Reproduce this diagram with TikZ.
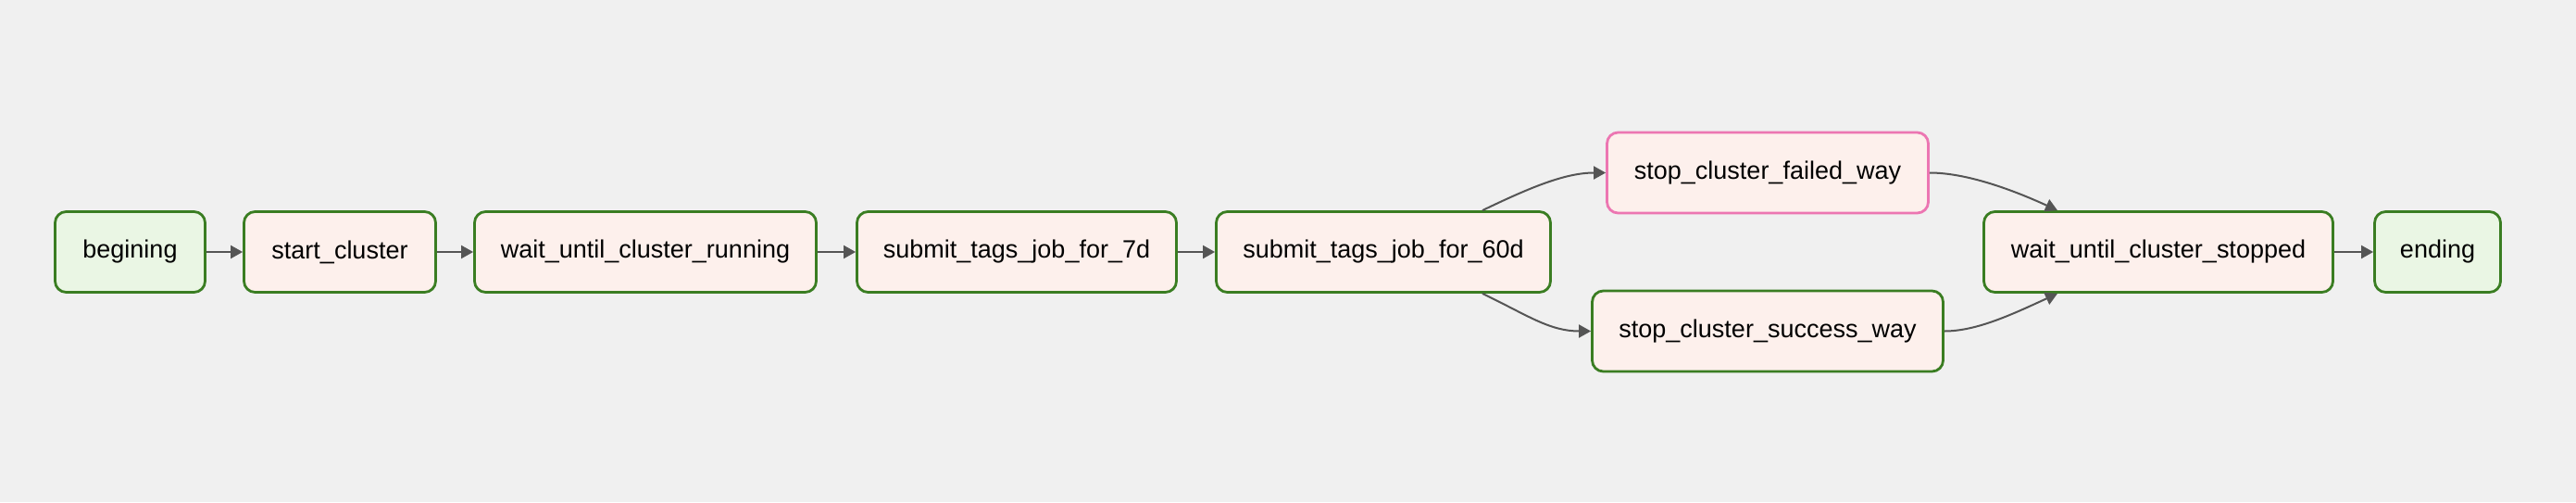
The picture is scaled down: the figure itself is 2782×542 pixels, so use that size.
\documentclass[tikz,border=0pt]{standalone}
\usepackage{fontspec}
\setmainfont{Liberation Sans}
\usetikzlibrary{arrows.meta}
\definecolor{bgc}{HTML}{F0F0F0}
\definecolor{okgreen}{HTML}{3A7D22}
\definecolor{skippink}{HTML}{EC76B2}
\definecolor{taskfill}{HTML}{FDF0EC}
\definecolor{dummyfill}{HTML}{EAF6E4}
\definecolor{edgec}{HTML}{555555}
\tikzset{
  task/.style={draw=okgreen, line width=2.8pt, fill=taskfill, rounded corners=12pt,
    minimum height=87pt, inner sep=0pt, align=center,
    font=\fontsize{27}{32}\selectfont},
  dummy/.style={task, fill=dummyfill},
  skipped/.style={task, draw=skippink},
  edge/.style={draw=edgec, line width=2pt, -{Triangle[length=13pt,width=14pt]}}
}
\begin{document}
\begin{tikzpicture}[x=1pt,y=-1pt]
\fill[bgc] (0,0) rectangle (2782,542);
\useasboundingbox (0,0) rectangle (2782,542);
\node[dummy, minimum width=162pt] (begin) at (140.5,272) {begining};
\node[task, minimum width=207pt] (start) at (367,272) {start\_cluster};
\node[task, minimum width=369pt] (waitrun) at (697,272) {wait\_until\_cluster\_running};
\node[task, minimum width=345pt] (sub7) at (1098,272) {submit\_tags\_job\_for\_7d};
\node[task, minimum width=361pt] (sub60) at (1494,272) {submit\_tags\_job\_for\_60d};
\node[skipped, minimum width=347pt] (failed) at (1909,186.5) {stop\_cluster\_failed\_way};
\node[task, minimum width=379pt] (success) at (1909,357.5) {stop\_cluster\_success\_way};
\node[task, minimum width=377pt] (waitstop) at (2331,272) {wait\_until\_cluster\_stopped};
\node[dummy, minimum width=136pt] (ending) at (2632.5,272) {ending};
\draw[edge] (begin) -- (start);
\draw[edge] (start) -- (waitrun);
\draw[edge] (waitrun) -- (sub7);
\draw[edge] (sub7) -- (sub60);
\draw[edge] ([xshift=107pt]sub60.north) .. controls +(48,-23) and +(-45,0) .. (failed.west);
\draw[edge] ([xshift=107pt]sub60.south) .. controls +(48,23) and +(-45,0) .. (success.west);
\draw[edge] (failed.east) .. controls +(40,0) and +(-48,-22) .. ([xshift=-109pt]waitstop.north);
\draw[edge] (success.east) .. controls +(35,0) and +(-48,22) .. ([xshift=-109pt]waitstop.south);
\draw[edge] (waitstop) -- (ending);
\end{tikzpicture}
\end{document}
